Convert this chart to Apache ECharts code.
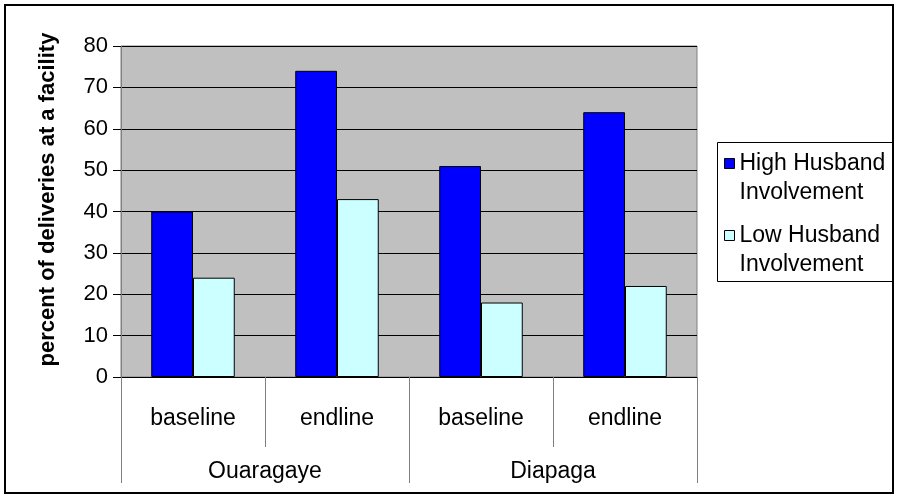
<!DOCTYPE html>
<html>
<head>
<meta charset="utf-8">
<script src="https://cdn.jsdelivr.net/npm/echarts@6/dist/echarts.min.js"></script>
<style>html,body{margin:0;padding:0;background:#fff}#c{width:900px;height:500px}</style>
</head>
<body>
<div id="c"></div>
<script>
const periods = ['baseline', 'endline', 'baseline', 'endline'];
const sites = ['Ouaragaye', 'Diapaga'];
const highInvolvement = [40, 74, 51, 64];
const lowInvolvement = [24, 43, 18, 22];
const seriesNames = ['High Husband\nInvolvement', 'Low Husband\nInvolvement'];
const yTicks = [0, 10, 20, 30, 40, 50, 60, 70, 80];

const FONT = 'Liberation Sans, Arial, sans-serif';
const chart = echarts.init(document.getElementById('c'), null, {renderer: 'canvas'});
chart.setOption({
  animation: false,
  textStyle: {fontFamily: FONT},
  grid: {left: 121, top: 46, right: 203, bottom: 123, show: true, backgroundColor: '#c0c0c0', borderColor: '#808080', borderWidth: 1},
  legend: {
    orient: 'vertical', left: 719, top: 115, itemWidth: 10, itemHeight: 10, itemGap: -15,
    icon: 'rect',
    textStyle: {fontFamily: FONT, fontSize: 23, color: '#000', lineHeight: 29},
    formatter: n => ' \n' + n,
    itemStyle: {borderColor: '#000', borderWidth: 1}
  },
  xAxis: [
    {type: 'category', data: periods, position: 'bottom',
     axisLine: {show: true, lineStyle: {color: '#000'}},
     axisTick: {show: true, length: 70, interval: 0, lineStyle: {color: '#808080'}},
     axisLabel: {fontSize: 23, color: '#000', margin: 30, interval: 0}},
    {type: 'category', data: sites, position: 'bottom', offset: 70,
     axisLine: {show: false},
     axisTick: {show: true, length: 36, interval: 0, lineStyle: {color: '#808080'}},
     axisLabel: {fontSize: 23, color: '#000', margin: 13, interval: 0}}
  ],
  yAxis: {
    type: 'value', min: yTicks[0], max: yTicks[yTicks.length - 1], interval: 10,
    name: 'percent of deliveries at a facility', nameLocation: 'middle', nameGap: 62,
    nameTextStyle: {fontSize: 22, fontWeight: 'bold', color: '#000', fontFamily: FONT, padding: [0, 0, 0, 24]},
    axisLine: {show: true, lineStyle: {color: '#808080'}},
    axisTick: {show: true, length: 8, lineStyle: {color: '#000'}},
    axisLabel: {fontSize: 22, color: '#000', margin: 13},
    splitLine: {show: true, lineStyle: {color: '#000', width: 1}}
  },
  series: [
    {name: seriesNames[0], type: 'bar', xAxisIndex: 0, data: highInvolvement, barGap: '0%', barCategoryGap: '42%',
     itemStyle: {color: '#0000ff', borderColor: '#000', borderWidth: 1}},
    {name: seriesNames[1], type: 'bar', xAxisIndex: 0, data: lowInvolvement, barGap: '0%', barCategoryGap: '42%',
     itemStyle: {color: '#ccffff', borderColor: '#000', borderWidth: 1}}
  ],
  graphic: [
    {type: 'rect', z: -1, shape: {x: 717.5, y: 142.5, width: 176, height: 139}, style: {fill: '#fff', stroke: '#000', lineWidth: 1}},
    {type: 'rect', z: 100, shape: {x: 5, y: 5, width: 888, height: 488}, style: {fill: 'none', stroke: '#000', lineWidth: 2}}
  ]
});
</script>
</body>
</html>
